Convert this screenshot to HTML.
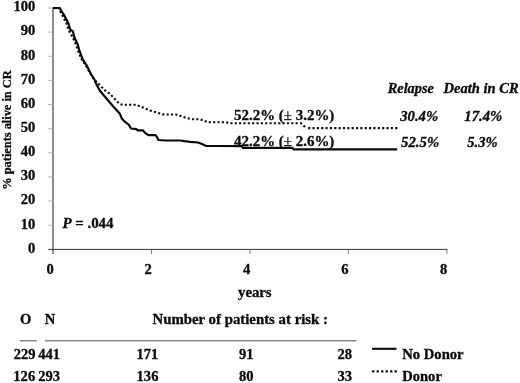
<!DOCTYPE html>
<html>
<head>
<meta charset="utf-8">
<style>
html,body{margin:0;padding:0;background:#fff;}
body{width:520px;height:383px;overflow:hidden;}
svg{display:block;filter:grayscale(1);}
text{font-family:"Liberation Serif",serif;font-weight:bold;fill:#0c0c0c;stroke:#0c0c0c;stroke-width:0.3px;white-space:pre;}
</style>
</head>
<body>
<svg width="520" height="383" viewBox="0 0 520 383">
<rect width="520" height="383" fill="#fff"/>
<g stroke="#5c5c5c" stroke-width="1.4" fill="none">
<line x1="53" y1="7.5" x2="53" y2="254"/>
</g>
<g stroke="#333" stroke-width="1" fill="none">
<line x1="48.2" y1="249.4" x2="447.3" y2="249.4"/>
</g>
<g stroke="#666" stroke-width="0.9" fill="none">
<line x1="151.5" y1="249.4" x2="151.5" y2="253.8"/>
<line x1="250.0" y1="249.4" x2="250.0" y2="253.8"/>
<line x1="348.4" y1="249.4" x2="348.4" y2="253.8"/>
<line x1="446.9" y1="249.4" x2="446.9" y2="253.8"/>
</g>
<g stroke="#ababab" stroke-width="0.9" fill="none">
<line x1="48.2" y1="225.2" x2="53" y2="225.2"/>
<line x1="48.2" y1="201.0" x2="53" y2="201.0"/>
<line x1="48.2" y1="176.9" x2="53" y2="176.9"/>
<line x1="48.2" y1="152.8" x2="53" y2="152.8"/>
<line x1="48.2" y1="128.7" x2="53" y2="128.7"/>
<line x1="48.2" y1="104.5" x2="53" y2="104.5"/>
<line x1="48.2" y1="80.4" x2="53" y2="80.4"/>
<line x1="48.2" y1="56.3" x2="53" y2="56.3"/>
<line x1="48.2" y1="32.1" x2="53" y2="32.1"/>
<line x1="48.2" y1="8.0" x2="53" y2="8.0"/>
</g>
<polyline fill="none" stroke="#111" stroke-width="2.1" stroke-dasharray="2.2 2.15" points="53,8 58.5,8.2 60.3,11.7 62.7,15.7 64.5,19.6 66.5,23.5 67.6,27 68.6,30.2 70.3,33 72.3,36.7 76,44.6 77.7,50 80,55.5 81.7,59.5 86,65.7 90.2,73.5 94.3,79.7 96.7,82 100.7,86 105.4,90.7 110.8,94.6 116.3,100.8 119.9,104 123,104.8 136.3,104.8 143,107.5 151.5,111 163,114.4 176,114.5 186,117.9 192,119.2 200,119.2 208,122.3 226.5,122.3 229.4,123.3 301.2,123.3 306,127.8"/>
<polyline fill="none" stroke="#111" stroke-width="2.1" stroke-dasharray="2.2 2.15" points="397.3,128.1 306,128.1"/>
<polyline fill="none" stroke="#0a0a0a" stroke-width="2.2" stroke-linejoin="round" points="53,8 59.8,8 61.7,11.7 64.5,15.7 66.4,19.6 68.4,23.5 69.5,27 70.5,30.2 72.8,31 74.2,36.7 77.7,44.6 79.3,50 81.2,55.5 82.8,59.5 86.8,65.7 90.7,73.5 94.7,80 95.5,82.5 99.9,90.7 106,98 112,105 112.8,106 119.9,113.8 121.8,118.5 124.8,121.7 128.7,124.6 131,128.5 136.3,129.1 137.8,130.4 143,130.4 145,132.8 148.4,135.2 155.6,135.2 157,137.1 158.5,140 165.2,140.5 180,140.5 184.6,141.2 190,141.8 198,142.5 202,144 205.8,145.8 215,146 241.7,146.1 242.7,147.8 292.5,147.9 293.5,149.4 397.2,149.4"/>
<g stroke="#858585" stroke-width="1.5" fill="none">
<line x1="19.9" y1="340.7" x2="36.8" y2="340.7"/>
<line x1="44.9" y1="340.7" x2="356.4" y2="340.7"/>
</g>
<line x1="372.1" y1="348.8" x2="396.5" y2="348.8" stroke="#0a0a0a" stroke-width="2.1"/>
<line x1="372.1" y1="371.4" x2="396.9" y2="371.4" stroke="#111" stroke-width="2.3" stroke-dasharray="2.3 2.19"/>
<text transform="translate(13.41,11.30) scale(1.0700,1)" font-size="13.6">100</text>
<text transform="translate(20.69,35.40) scale(1.0700,1)" font-size="13.6">90</text>
<text transform="translate(20.69,59.60) scale(1.0700,1)" font-size="13.6">80</text>
<text transform="translate(20.69,83.70) scale(1.0700,1)" font-size="13.6">70</text>
<text transform="translate(20.69,107.80) scale(1.0700,1)" font-size="13.6">60</text>
<text transform="translate(20.69,131.90) scale(1.0700,1)" font-size="13.6">50</text>
<text transform="translate(20.69,156.10) scale(1.0700,1)" font-size="13.6">40</text>
<text transform="translate(20.69,180.20) scale(1.0700,1)" font-size="13.6">30</text>
<text transform="translate(20.69,204.30) scale(1.0700,1)" font-size="13.6">20</text>
<text transform="translate(20.69,228.50) scale(1.0700,1)" font-size="13.6">10</text>
<text transform="translate(27.96,252.60) scale(1.0700,1)" font-size="13.6">0</text>
<text transform="translate(46.51,273.80) scale(1.0700,1)" font-size="13.6">0</text>
<text transform="translate(144.60,273.80) scale(1.0700,1)" font-size="13.6">2</text>
<text transform="translate(242.91,273.80) scale(1.0700,1)" font-size="13.6">4</text>
<text transform="translate(341.36,273.80) scale(1.0700,1)" font-size="13.6">6</text>
<text transform="translate(440.00,273.80) scale(1.0700,1)" font-size="13.6">8</text>
<text transform="translate(238.00,296.60) scale(1.0861,1)" font-size="13.6">years</text>
<text transform="translate(234.00,119.60) scale(1.0831,1)" font-size="13.8"><tspan font-style="normal" font-weight="bold">52.2%&#160;(</tspan><tspan font-style="normal" font-weight="normal">±</tspan><tspan font-style="normal" font-weight="bold">&#160;3.2%)</tspan></text>
<text transform="translate(234.00,145.50) scale(1.0831,1)" font-size="13.8"><tspan font-style="normal" font-weight="bold">42.2%&#160;(</tspan><tspan font-style="normal" font-weight="normal">±</tspan><tspan font-style="normal" font-weight="bold">&#160;2.6%)</tspan></text>
<text transform="translate(62.40,227.90) scale(1.0711,1)" font-size="13.9"><tspan font-style="italic" font-weight="bold">P</tspan><tspan font-style="normal" font-weight="bold">&#160;=&#160;.044</tspan></text>
<text transform="translate(387.75,93.00) scale(1.0523,1)" font-size="13.6" font-style="italic">Relapse</text>
<text transform="translate(443.57,93.00) scale(1.0704,1)" font-size="13.6" font-style="italic">Death in CR</text>
<text transform="translate(400.28,121.30) scale(1.0785,1)" font-size="13.6" font-style="italic">30.4%</text>
<text transform="translate(464.30,121.30) scale(1.0808,1)" font-size="13.6" font-style="italic">17.4%</text>
<text transform="translate(401.10,147.00) scale(1.0865,1)" font-size="13.6" font-style="italic">52.5%</text>
<text transform="translate(467.30,147.00) scale(1.0717,1)" font-size="13.6" font-style="italic">5.3%</text>
<text transform="translate(20.10,323.80) scale(1.0700,1)" font-size="13.6">O</text>
<text transform="translate(44.80,323.80) scale(1.0700,1)" font-size="13.6">N</text>
<text transform="translate(152.50,324.00) scale(1.0902,1)" font-size="13.6">Number of patients at risk :</text>
<text transform="translate(13.63,358.50) scale(1.0700,1)" font-size="13.6">229</text>
<text transform="translate(38.13,358.50) scale(1.0700,1)" font-size="13.6">441</text>
<text transform="translate(13.35,380.70) scale(1.0700,1)" font-size="13.6">126</text>
<text transform="translate(38.28,380.70) scale(1.0700,1)" font-size="13.6">293</text>
<text transform="translate(136.45,358.50) scale(1.0700,1)" font-size="13.6">171</text>
<text transform="translate(136.60,380.70) scale(1.0700,1)" font-size="13.6">136</text>
<text transform="translate(238.92,358.50) scale(1.0700,1)" font-size="13.6">91</text>
<text transform="translate(239.07,380.70) scale(1.0700,1)" font-size="13.6">80</text>
<text transform="translate(337.52,358.50) scale(1.0700,1)" font-size="13.6">28</text>
<text transform="translate(337.52,380.70) scale(1.0700,1)" font-size="13.6">33</text>
<text transform="translate(402.30,358.90) scale(1.0758,1)" font-size="13.6">No Donor</text>
<text transform="translate(402.30,380.90) scale(1.0684,1)" font-size="13.6">Donor</text>
<text transform="translate(10.50,189.67) rotate(-90) scale(1.0653,1)" font-size="11.6">% patients alive in CR</text>
</svg>
</body>
</html>
